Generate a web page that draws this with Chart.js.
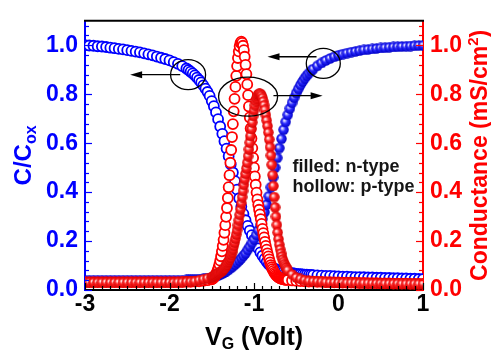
<!DOCTYPE html>
<html>
<head>
<meta charset="utf-8">
<script src="https://cdn.jsdelivr.net/npm/chart.js@4.4.1/dist/chart.umd.min.js"></script>
<style>
  html, body { margin: 0; padding: 0; background: #fff; }
  #wrap { width: 491px; height: 356px; }
</style>
</head>
<body>
<div id="wrap"><canvas id="cv" width="491" height="356"></canvas></div>
<script>
/* C-V and G-V sweep, n-type (filled) vs p-type (hollow) */

// gate voltage of the capacitance sweep (V)
const vgC = [
  -3.00,-2.95,-2.90,-2.85,-2.80,-2.75,-2.70,-2.65,-2.60,-2.55,-2.50,-2.45,-2.40,-2.35,-2.30,-2.25,-2.20,-2.15,-2.10,-2.05,-2.00,-1.95,-1.90,-1.85,-1.80,
  -1.775,-1.75,-1.725,-1.70,-1.675,-1.65,-1.625,-1.60,-1.575,-1.55,-1.525,-1.50,-1.475,-1.45,-1.425,-1.40,-1.375,-1.35,-1.325,-1.30,
  -1.275,-1.25,-1.225,-1.20,-1.175,-1.15,-1.125,-1.10,-1.075,-1.05,-1.025,-1.00,-0.975,-0.95,-0.925,-0.90,-0.875,-0.85,-0.825,-0.80,
  -0.775,-0.75,-0.725,-0.70,-0.675,-0.65,-0.625,-0.60,-0.575,-0.55,-0.525,-0.50,-0.475,-0.45,-0.425,-0.40,-0.375,-0.35,-0.325,-0.30,
  -0.25,-0.20,-0.15,-0.10,-0.05,0.00,0.05,0.10,0.15,0.20,0.25,0.30,0.35,0.40,0.45,0.50,0.55,0.60,0.65,0.70,0.75,0.80,0.85,0.90,0.95,1.00
];
// C/Cox, p-type (hollow blue)
const capP = [
  1.000,0.999,0.998,0.996,0.995,0.993,0.990,0.988,0.985,0.983,0.980,0.977,0.974,0.971,0.967,0.963,0.959,0.954,0.949,0.944,0.938,0.931,0.924,0.915,0.905,
  0.899,0.892,0.885,0.877,0.868,0.858,0.848,0.836,0.823,0.809,0.793,0.772,0.751,0.726,0.698,0.668,0.638,0.608,0.578,0.547,
  0.514,0.480,0.445,0.410,0.375,0.341,0.311,0.285,0.262,0.243,0.224,0.205,0.187,0.170,0.154,0.140,0.127,0.115,0.105,0.097,
  0.091,0.086,0.082,0.078,0.076,0.074,0.073,0.071,0.070,0.069,0.068,0.066,0.065,0.065,0.064,0.063,0.063,0.062,0.062,0.061,
  0.060,0.059,0.058,0.058,0.057,0.056,0.055,0.055,0.054,0.053,0.053,0.052,0.051,0.051,0.050,0.050,0.049,0.049,0.048,0.048,0.047,0.047,0.046,0.046,0.045,0.045
];
// C/Cox, n-type (filled blue)
const capN = [
  0.040,0.040,0.040,0.040,0.040,0.040,0.040,0.040,0.040,0.040,0.040,0.040,0.040,0.040,0.040,0.040,0.040,0.040,0.040,0.040,0.040,0.040,0.040,0.040,0.041,
  0.041,0.041,0.042,0.042,0.043,0.043,0.044,0.045,0.046,0.047,0.048,0.051,0.053,0.056,0.059,0.063,0.067,0.072,0.077,0.083,
  0.090,0.097,0.104,0.112,0.121,0.130,0.140,0.150,0.164,0.177,0.192,0.207,0.225,0.244,0.266,0.290,0.318,0.349,0.383,0.420,
  0.460,0.500,0.540,0.580,0.618,0.655,0.687,0.716,0.742,0.765,0.786,0.805,0.822,0.838,0.852,0.865,0.876,0.886,0.895,0.903,
  0.916,0.928,0.938,0.946,0.953,0.959,0.964,0.968,0.972,0.975,0.978,0.981,0.983,0.985,0.987,0.989,0.990,0.992,0.993,0.994,0.995,0.996,0.997,0.998,0.999,1.000
];

// gate voltage of the conductance sweep (V)
const vgG = [
  -3.00,-2.95,-2.90,-2.85,-2.80,-2.75,-2.70,-2.65,-2.60,-2.55,-2.50,-2.45,-2.40,-2.35,-2.30,-2.25,-2.20,-2.15,-2.10,-2.05,-2.00,-1.95,-1.90,-1.85,-1.80,-1.75,-1.70,-1.65,-1.60,-1.55,
  -1.50,-1.49,-1.48,-1.47,-1.46,-1.45,-1.44,-1.43,-1.42,-1.41,-1.40,-1.39,-1.38,-1.37,-1.36,-1.35,-1.34,-1.33,-1.32,-1.31,
  -1.30,-1.29,-1.28,-1.27,-1.26,-1.25,-1.24,-1.23,-1.22,-1.21,-1.20,-1.19,-1.18,-1.17,-1.16,-1.15,-1.14,-1.13,-1.12,-1.11,
  -1.10,-1.09,-1.08,-1.07,-1.06,-1.05,-1.04,-1.03,-1.02,-1.01,-1.00,-0.99,-0.98,-0.97,-0.96,-0.95,-0.94,-0.93,-0.92,-0.91,
  -0.90,-0.89,-0.88,-0.87,-0.86,-0.85,-0.84,-0.83,-0.82,-0.81,-0.80,-0.79,-0.78,-0.77,-0.76,-0.75,-0.74,-0.73,-0.72,-0.71,
  -0.70,-0.69,-0.68,-0.67,-0.66,-0.65,-0.64,-0.63,-0.62,-0.61,-0.60,
  -0.55,-0.50,-0.45,-0.40,-0.35,-0.30,-0.25,-0.20,-0.15,-0.10,-0.05,0.00,0.05,0.10,0.15,0.20,0.25,0.30,0.35,0.40,0.45,0.50,0.55,0.60,0.65,0.70,0.75,0.80,0.85,0.90,0.95,1.00
];
// conductance mS/cm2, p-type (hollow red)
const condP = [
  0.032,0.032,0.032,0.032,0.032,0.032,0.032,0.032,0.032,0.032,0.032,0.032,0.032,0.032,0.032,0.032,0.032,0.032,0.032,0.032,0.032,0.032,0.032,0.033,0.033,0.033,0.034,0.035,0.037,0.040,
  0.044,0.046,0.049,0.053,0.058,0.064,0.072,0.081,0.092,0.105,0.120,0.138,0.158,0.180,0.205,0.234,0.265,0.299,0.335,0.376,
  0.420,0.469,0.520,0.572,0.625,0.678,0.730,0.781,0.830,0.875,0.915,0.948,0.975,0.996,1.010,1.015,1.010,0.998,0.980,0.953,
  0.920,0.882,0.840,0.796,0.750,0.705,0.660,0.619,0.580,0.540,0.500,0.464,0.430,0.398,0.370,0.348,0.328,0.309,0.290,0.270,
  0.250,0.232,0.215,0.197,0.180,0.165,0.150,0.137,0.125,0.113,0.102,0.093,0.085,0.078,0.071,0.066,0.061,0.058,0.055,0.052,
  0.050,0.048,0.047,0.046,0.045,0.044,0.043,0.043,0.042,0.042,0.041,
  0.039,0.037,0.036,0.035,0.034,0.034,0.033,0.033,0.032,0.032,0.031,0.031,0.030,0.030,0.030,0.029,0.029,0.029,0.028,0.028,0.028,0.027,0.027,0.027,0.026,0.026,0.026,0.026,0.025,0.025,0.025,0.025
];
// conductance mS/cm2, n-type (filled red)
const condN = [
  0.031,0.031,0.031,0.031,0.031,0.031,0.031,0.031,0.031,0.031,0.031,0.031,0.031,0.031,0.031,0.031,0.031,0.031,0.031,0.031,0.031,0.031,0.032,0.032,0.033,0.034,0.036,0.040,0.044,0.048,
  0.052,0.054,0.056,0.058,0.060,0.062,0.064,0.066,0.068,0.070,0.073,0.075,0.078,0.081,0.085,0.089,0.094,0.099,0.105,0.111,
  0.118,0.126,0.134,0.144,0.155,0.167,0.180,0.194,0.210,0.227,0.245,0.265,0.285,0.307,0.330,0.355,0.380,0.405,0.430,0.453,
  0.475,0.497,0.520,0.547,0.575,0.602,0.630,0.658,0.685,0.711,0.735,0.755,0.772,0.784,0.793,0.799,0.802,0.802,0.800,0.794,
  0.785,0.771,0.755,0.736,0.715,0.693,0.670,0.644,0.615,0.584,0.550,0.512,0.470,0.425,0.380,0.338,0.300,0.266,0.235,0.208,
  0.185,0.166,0.150,0.137,0.125,0.115,0.106,0.099,0.092,0.086,0.081,
  0.064,0.051,0.045,0.040,0.037,0.035,0.034,0.033,0.032,0.031,0.031,0.030,0.030,0.029,0.029,0.029,0.028,0.028,0.028,0.027,0.027,0.027,0.026,0.026,0.026,0.026,0.025,0.025,0.025,0.025,0.025,0.025
];

const xTicks = [-3, -2, -1, 0, 1];
const yTicks = [0, 0.2, 0.4, 0.6, 0.8, 1.0];

// ── styling ──
const FONT = "'Liberation Sans', Arial, sans-serif";
const BLUE = '#0000ff';
const RED = '#ff0000';

function sphere(light, base, dark) {
  const c = document.createElement('canvas');
  c.width = c.height = 11;
  const g = c.getContext('2d');
  const grad = g.createRadialGradient(4, 4, 0.4, 5.5, 5.5, 5.4);
  grad.addColorStop(0, light);
  grad.addColorStop(0.45, base);
  grad.addColorStop(1, dark);
  g.fillStyle = grad;
  g.beginPath();
  g.arc(5.5, 5.5, 5.2, 0, Math.PI * 2);
  g.fill();
  return c;
}
const blueBall = sphere('#f4f4ff', '#2a2aff', '#0000c4');
const redBall = sphere('#fff2f2', '#ff2222', '#d20000');

const pts = (xs, ys) => xs.map((v, i) => ({ x: v, y: ys[i] }));

// annotation marks (data coords + pixel radii)
const ovals = [
  { x: -1.78, y: 0.88, rx: 17.5, ry: 15 },
  { x: -1.07, y: 0.79, rx: 29.5, ry: 19.5 },
  { x: -0.18, y: 0.926, rx: 17, ry: 15 },
];
const arrows = [
  { x0: -1.873, x1: -2.466, y: 0.88 },
  { x0: -0.77, x1: -0.188, y: 0.794 },
  { x0: -0.26, x1: -0.84, y: 0.953 },
];
const notes = [
  { text: 'filled: n-type', x: -0.544, y: 0.4825 },
  { text: 'hollow: p-type', x: -0.544, y: 0.40 },
];

function drawParts(ctx, parts, x, y) {
  // parts: [text, size, dy]
  let total = 0;
  parts.forEach(p => { ctx.font = `bold ${p[1]}px ${FONT}`; total += ctx.measureText(p[0]).width; });
  let cx = x - total / 2;
  parts.forEach(p => {
    ctx.font = `bold ${p[1]}px ${FONT}`;
    ctx.fillText(p[0], cx, y + p[2]);
    cx += ctx.measureText(p[0]).width;
  });
}

const decorations = {
  id: 'decorations',
  afterDraw(chart) {
    const { ctx, chartArea: a, scales } = chart;
    const sx = scales.x, sy = scales.y, sy2 = scales.y2;
    ctx.save();

    // top frame
    ctx.strokeStyle = '#000';
    ctx.lineWidth = 2;
    ctx.beginPath();
    ctx.moveTo(a.left - 1, a.top);
    ctx.lineTo(a.right + 1, a.top);
    ctx.stroke();

    // inward ticks
    ctx.lineWidth = 1.2;
    ctx.strokeStyle = '#000';
    for (let k = 0; k <= 40; k++) {
      const v = -3 + k * 0.1;
      const px = Math.round(sx.getPixelForValue(v)) + 0.5;
      const len = k % 10 === 0 ? 7 : 4;
      ctx.beginPath(); ctx.moveTo(px, a.bottom); ctx.lineTo(px, a.bottom - len); ctx.stroke();
    }
    [[sy, BLUE, a.left, 1], [sy2, RED, a.right, -1]].forEach(([s, col, x0, dir]) => {
      ctx.strokeStyle = col;
      for (let k = 0; k <= 27; k++) {
        const v = k * 0.04;
        const py = Math.round(s.getPixelForValue(v)) + 0.5;
        const len = k % 5 === 0 ? 7 : 4;
        ctx.beginPath(); ctx.moveTo(x0, py); ctx.lineTo(x0 + dir * len, py); ctx.stroke();
      }
    });

    // axis titles
    const midY = (a.top + a.bottom) / 2;
    ctx.textAlign = 'left';
    ctx.textBaseline = 'alphabetic';
    ctx.fillStyle = BLUE;
    ctx.save();
    ctx.translate(31, midY);
    ctx.rotate(-Math.PI / 2);
    drawParts(ctx, [['C/C', 24, 0], ['ox', 16, 5]], 0, 0);
    ctx.restore();

    ctx.fillStyle = RED;
    ctx.save();
    ctx.translate(487, midY);
    ctx.rotate(-Math.PI / 2);
    drawParts(ctx, [['Conductance (mS/cm', 23, 0], ['2', 15, -9], [')', 23, 0]], 0, 0);
    ctx.restore();

    ctx.fillStyle = '#000';
    drawParts(ctx, [['V', 25, 0], ['G', 16, 4], [' (Volt)', 25, 0]], (a.left + a.right) / 2, 345);

    // ovals and arrows
    ctx.strokeStyle = '#000';
    ctx.fillStyle = '#000';
    ctx.lineWidth = 1.3;
    ovals.forEach(o => {
      ctx.beginPath();
      ctx.ellipse(sx.getPixelForValue(o.x), sy.getPixelForValue(o.y), o.rx, o.ry, 0, 0, Math.PI * 2);
      ctx.stroke();
    });
    arrows.forEach(r => {
      const x0 = sx.getPixelForValue(r.x0), x1 = sx.getPixelForValue(r.x1);
      const py = sy.getPixelForValue(r.y);
      const d = Math.sign(x1 - x0);
      ctx.beginPath(); ctx.moveTo(x0, py); ctx.lineTo(x1 - d * 8, py); ctx.stroke();
      ctx.beginPath();
      ctx.moveTo(x1, py);
      ctx.lineTo(x1 - d * 12, py - 3.5);
      ctx.lineTo(x1 - d * 12, py + 3.5);
      ctx.closePath();
      ctx.fill();
    });

    // notes
    ctx.fillStyle = '#161616';
    ctx.font = `bold 18px ${FONT}`;
    ctx.textAlign = 'left';
    notes.forEach(n => ctx.fillText(n.text, sx.getPixelForValue(n.x), sy.getPixelForValue(n.y)));

    ctx.restore();
  }
};

const tickFont = { family: FONT, size: 23, weight: 'bold' };

new Chart(document.getElementById('cv'), {
  type: 'scatter',
  data: {
    datasets: [
      { label: 'G n-type', data: pts(vgG, condN), yAxisID: 'y2', pointStyle: redBall, pointRadius: 5 },
      { label: 'G p-type', data: pts(vgG, condP), yAxisID: 'y2', pointStyle: 'circle', pointRadius: 5,
        borderColor: RED, borderWidth: 1.8, backgroundColor: '#fff' },
      { label: 'C n-type', data: pts(vgC, capN), yAxisID: 'y', pointStyle: blueBall, pointRadius: 5 },
      { label: 'C p-type', data: pts(vgC, capP), yAxisID: 'y', pointStyle: 'circle', pointRadius: 5,
        borderColor: BLUE, borderWidth: 1.8, backgroundColor: '#fff' },
    ],
  },
  options: {
    responsive: false,
    animation: false,
    events: [],
    layout: { padding: { top: 8, left: 0, right: 0, bottom: 0 } },
    plugins: { legend: { display: false }, tooltip: { enabled: false } },
    scales: {
      x: {
        type: 'linear', min: -3, max: 1,
        afterBuildTicks: s => { s.ticks = xTicks.map(v => ({ value: v })); },
        afterFit: s => { s.height = 66; },
        grid: { display: false, drawTicks: false },
        border: { display: true, color: '#000', width: 2 },
        ticks: { color: '#000', padding: 1, font: tickFont, maxRotation: 0, autoSkip: false, callback: v => String(v) },
      },
      y: {
        position: 'left', min: 0, max: 1.1,
        afterBuildTicks: s => { s.ticks = yTicks.map(v => ({ value: v })); },
        afterFit: s => { s.width = 85; },
        grid: { display: false, drawTicks: false },
        border: { display: true, color: BLUE, width: 2 },
        ticks: { color: BLUE, padding: 7, font: tickFont, autoSkip: false, callback: v => v.toFixed(1) },
      },
      y2: {
        position: 'right', min: 0, max: 1.1,
        afterBuildTicks: s => { s.ticks = yTicks.map(v => ({ value: v })); },
        afterFit: s => { s.width = 68; },
        grid: { display: false, drawTicks: false },
        border: { display: true, color: RED, width: 2 },
        ticks: { color: RED, padding: 7, font: tickFont, autoSkip: false, callback: v => v.toFixed(1) },
      },
    },
  },
  plugins: [decorations],
});
</script>
</body>
</html>
